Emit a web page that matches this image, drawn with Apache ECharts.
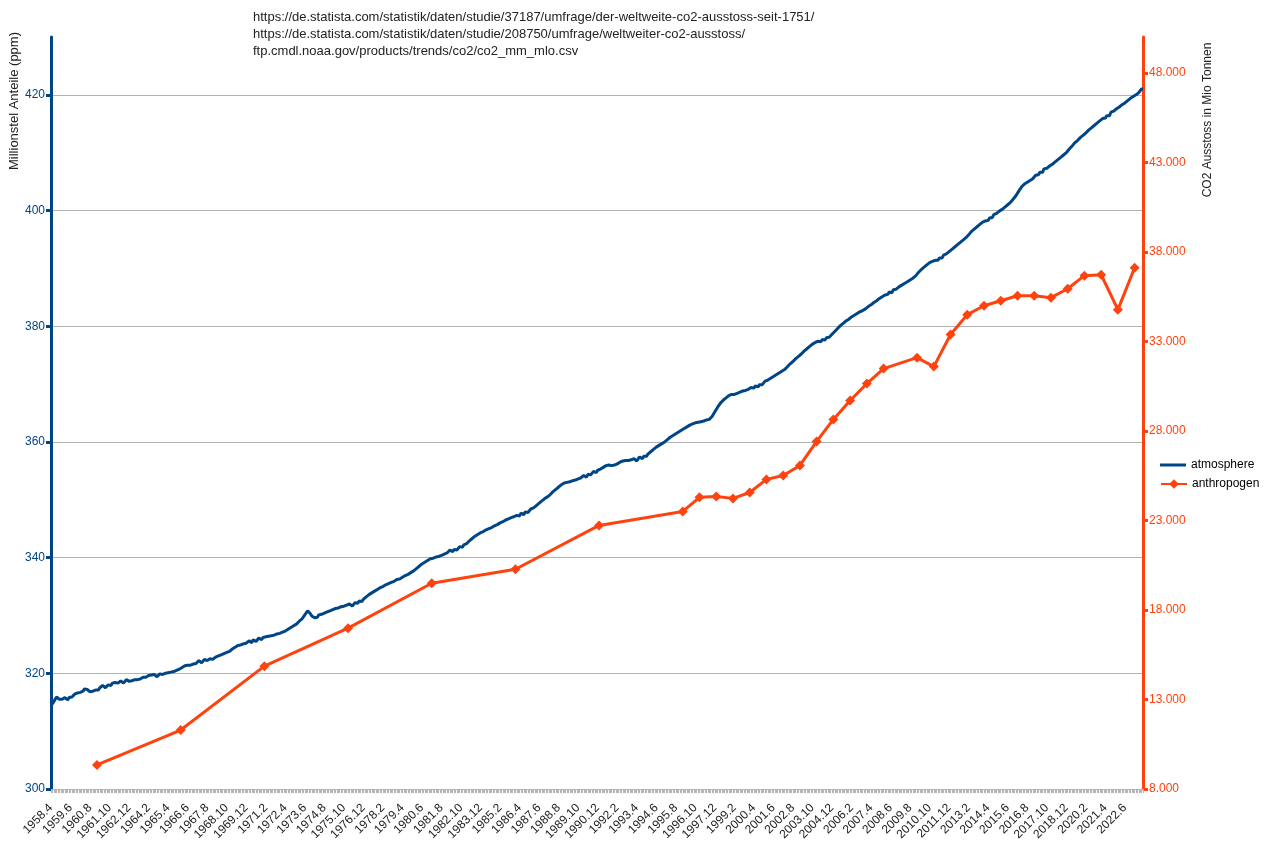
<!DOCTYPE html>
<html>
<head>
<meta charset="utf-8">
<script src="https://cdn.jsdelivr.net/npm/echarts@6/dist/echarts.min.js"></script>
<style>html,body{margin:0;padding:0;background:#fff}#c{width:1264px;height:843px}</style>
</head>
<body>
<div id="c"></div>
<script>
// Monthly categories 1958.4 ... 2023.7
const startYear = 1958, startMonth = 4, endYear = 2023, endMonth = 7;
const months = [];
for (let y = startYear, m = startMonth; y < endYear || (y === endYear && m <= endMonth); ) {
  months.push(y + '.' + m);
  m++; if (m > 12) { m = 1; y++; }
}

// CO2 in atmosphere (ppm, monthly, deseasonalized)
const co2 = [
315.2,314.7,315.1,315.3,315.9,316.0,315.5,315.2,315.5,
315.6,315.8,315.6,315.4,315.8,316.1,315.9,316.2,316.4,316.3,316.6,316.5,
316.7,316.5,316.9,317.3,317.6,317.2,316.9,316.8,317.0,316.9,317.2,317.1,
317.3,317.1,317.5,317.6,317.9,317.6,317.5,317.8,318.0,317.8,317.9,318.3,
318.2,318.4,318.1,318.3,318.6,318.7,318.4,318.3,318.6,318.9,318.7,318.6,
318.8,318.7,319.0,318.9,319.1,318.9,319.2,319.0,319.2,319.3,319.1,319.3,
319.4,319.6,319.3,319.7,319.5,319.8,319.6,319.4,319.7,319.9,319.6,319.8,
319.7,320.0,319.8,320.1,319.9,320.2,320.1,320.3,320.2,320.5,320.4,320.7,
320.8,321.0,320.9,321.3,321.1,321.4,321.6,321.4,321.7,321.6,321.9,321.7,
321.9,322.2,322.0,321.8,322.1,322.4,322.5,322.2,322.1,322.5,322.7,322.4,
322.5,322.8,322.7,323.0,322.9,323.2,323.1,323.4,323.3,323.6,323.5,323.8,
323.9,324.2,324.1,324.5,324.4,324.8,324.6,324.9,324.7,325.1,324.9,325.2,
325.2,325.6,325.4,325.3,325.8,325.9,325.5,325.7,326.1,326.0,325.8,326.2,
326.0,326.3,326.1,326.4,326.2,326.5,326.3,326.6,326.4,326.8,326.6,326.9,
326.8,327.1,326.9,327.3,327.2,327.6,327.5,327.9,327.8,328.2,328.1,328.5,
328.6,329.0,328.9,329.4,329.6,330.1,330.4,330.8,330.6,330.3,329.9,329.7,
329.6,329.9,329.7,330.1,329.9,330.2,330.0,330.4,330.3,330.6,330.5,330.8,
330.7,331.0,330.8,331.2,331.0,331.3,331.1,331.5,331.3,331.6,331.5,331.8,
331.6,332.0,331.8,331.6,331.9,332.2,332.0,332.1,332.5,332.3,332.4,332.8,
332.8,333.2,333.1,333.6,333.5,333.9,333.8,334.2,334.1,334.5,334.4,334.8,
334.7,335.0,334.9,335.3,335.1,335.5,335.4,335.7,335.6,335.9,335.8,336.2,
336.0,336.3,336.2,336.6,336.5,336.9,336.8,337.1,337.0,337.4,337.3,337.7,
337.7,338.1,338.0,338.5,338.4,338.9,338.8,339.2,339.1,339.5,339.4,339.8,
339.6,339.9,339.7,340.1,339.9,340.2,340.1,340.4,340.3,340.6,340.5,340.8,
340.9,341.3,341.1,341.0,341.4,341.7,341.3,341.5,341.9,341.7,341.8,342.2,
342.0,342.4,342.4,342.9,342.8,343.3,343.3,343.7,343.7,344.0,344.0,344.3,
344.2,344.5,344.4,344.8,344.7,345.0,344.9,345.2,345.1,345.5,345.4,345.7,
345.7,346.0,345.9,346.2,346.2,346.5,346.4,346.7,346.6,346.9,346.8,347.1,
346.9,347.3,347.0,347.2,347.7,347.5,347.4,347.9,348.0,347.8,348.1,348.4,
348.2,348.6,348.6,349.0,349.0,349.4,349.4,349.8,349.8,350.2,350.2,350.5,
350.5,350.9,350.9,351.4,351.4,351.8,351.8,352.2,352.2,352.6,352.5,352.9,
352.7,353.0,352.9,353.1,353.0,353.3,353.2,353.4,353.3,353.6,353.5,353.8,
353.8,354.2,354.0,353.9,354.4,354.6,354.3,354.5,354.9,355.0,354.7,355.1,
355.0,355.3,355.3,355.6,355.6,355.9,355.8,356.0,355.8,355.9,355.7,356.0,
355.9,356.2,356.1,356.5,356.4,356.7,356.5,356.8,356.5,356.8,356.6,356.9,
356.7,357.1,356.9,356.7,357.0,357.4,357.2,357.1,357.5,357.7,357.5,357.9,
357.9,358.3,358.3,358.7,358.7,359.1,359.0,359.4,359.4,359.7,359.7,360.0,
360.0,360.4,360.4,360.8,360.8,361.1,361.1,361.4,361.4,361.7,361.6,362.0,
362.0,362.3,362.3,362.6,362.6,362.9,362.8,363.1,363.0,363.3,363.2,363.4,
363.2,363.5,363.3,363.6,363.4,363.8,363.6,363.9,364.0,364.4,364.7,365.2,
365.5,366.0,366.2,366.7,366.8,367.2,367.3,367.6,367.7,368.0,367.9,368.2,
367.9,368.2,368.1,368.4,368.3,368.6,368.5,368.8,368.6,368.9,368.8,369.1,
369.0,369.4,369.1,369.3,369.7,369.6,369.5,369.9,370.1,369.9,370.2,370.5,
370.4,370.7,370.7,371.0,371.0,371.3,371.3,371.6,371.6,371.9,371.8,372.2,
372.1,372.5,372.5,373.0,373.0,373.5,373.5,373.9,374.0,374.4,374.4,374.8,
374.8,375.2,375.2,375.7,375.7,376.1,376.1,376.5,376.5,376.9,376.9,377.2,
377.0,377.4,377.1,377.3,377.7,377.5,377.6,378.0,377.8,378.1,378.4,378.6,
378.7,379.1,379.2,379.6,379.7,380.1,380.1,380.5,380.5,380.9,380.9,381.2,
381.2,381.6,381.5,381.9,381.8,382.2,382.1,382.5,382.4,382.7,382.7,383.0,
383.0,383.4,383.4,383.7,383.7,384.1,384.1,384.4,384.4,384.8,384.8,385.1,
385.0,385.4,385.2,385.5,385.9,385.7,385.8,386.3,386.1,386.4,386.7,386.8,
386.8,387.1,387.1,387.4,387.4,387.7,387.6,388.0,387.9,388.3,388.3,388.7,
388.8,389.3,389.4,389.8,389.8,390.2,390.2,390.6,390.6,391.0,390.9,391.2,
391.0,391.4,391.1,391.4,391.8,391.7,391.8,392.3,392.1,392.5,392.8,392.9,
392.9,393.3,393.3,393.7,393.7,394.1,394.1,394.5,394.5,394.9,394.9,395.3,
395.4,395.8,395.9,396.4,396.4,396.8,396.8,397.2,397.2,397.6,397.6,398.0,
397.8,398.2,398.0,398.3,398.7,398.6,398.8,399.3,399.1,399.5,399.8,399.9,
399.8,400.2,400.2,400.6,400.6,401.0,401.0,401.4,401.5,402.0,402.1,402.6,
402.8,403.4,403.6,404.1,404.2,404.6,404.5,404.9,404.9,405.2,405.2,405.5,
405.6,406.1,405.9,406.2,406.6,406.5,406.6,407.2,407.0,407.3,407.6,407.7,
407.6,408.0,408.0,408.4,408.4,408.8,408.8,409.2,409.2,409.6,409.6,410.0,
410.1,410.6,410.6,411.1,411.2,411.7,411.7,412.1,412.2,412.6,412.6,413.0,
413.0,413.4,413.4,413.9,413.9,414.3,414.3,414.7,414.7,415.1,415.1,415.5,
415.4,415.9,415.7,416.0,416.4,416.3,416.4,417.0,416.8,417.2,417.5,417.6,
417.5,417.9,417.9,418.3,418.3,418.6,418.6,419.0,419.0,419.4,419.3,419.7,
419.6,420.0,420.0,420.4,420.6,421.0,421.0
];

// Anthropogenic CO2 emissions (Mio t), placed at these categories
const emissionCats = ['1961.1','1966.1','1971.1','1976.1','1981.1','1986.1','1991.1',
  '1996.1','1997.1','1998.1','1999.1','2000.1','2001.1','2002.1','2003.1','2004.1','2005.1',
  '2006.1','2007.1','2008.1','2010.1','2011.1','2012.1','2013.1','2014.1','2015.1','2016.1',
  '2017.1','2018.1','2019.1','2020.1','2021.1','2022.1','2023.1'];
const emissionVals = [9340,11290,14860,16980,19490,20270,22720,
  23500,24290,24340,24230,24560,25290,25510,26070,27410,28640,
  29700,30640,31480,32090,31590,33380,34490,34990,35270,35550,
  35550,35440,35940,36670,36720,34770,37110];

const leftTicks = [300,320,340,360,380,400,420];
const rightTicks = [8000,13000,18000,23000,28000,33000,38000,43000,48000];
const sourceLines = [
  'https://de.statista.com/statistik/daten/studie/37187/umfrage/der-weltweite-co2-ausstoss-seit-1751/',
  'https://de.statista.com/statistik/daten/studie/208750/umfrage/weltweiter-co2-ausstoss/',
  'ftp.cmdl.noaa.gov/products/trends/co2/co2_mm_mlo.csv'
];

const BLUE = '#004586', ORANGE = '#ff420e', FONT = 'Liberation Sans';
const fmtDe = v => String(v).replace(/\B(?=(\d{3})+(?!\d))/g, '.');

const chart = echarts.init(document.getElementById('c'));
chart.setOption({
  animation: false,
  backgroundColor: '#fff',
  textStyle: { fontFamily: FONT },
  title: {
    text: sourceLines.join('\n'),
    left: 253, top: 9, padding: 0,
    textStyle: { fontSize: 13, fontWeight: 'normal', color: '#222', lineHeight: 17, fontFamily: FONT }
  },
  graphic: [
    { type: 'text', x: 14, y: 101, rotation: Math.PI / 2,
      style: { text: 'Millionstel Anteile (ppm)', fontSize: 13, fontFamily: FONT, fill: '#222', align: 'center', verticalAlign: 'middle' } },
    { type: 'text', x: 1208, y: 120, rotation: Math.PI / 2,
      style: { text: 'CO2 Ausstoss in Mio Tonnen', fontSize: 12, fontFamily: FONT, fill: '#222', align: 'center', verticalAlign: 'middle' } }
  ],
  legend: [
    {
      left: 1160, top: 459, padding: 0, itemWidth: 26, itemHeight: 3,
      icon: 'rect',
      textStyle: { fontSize: 12, color: '#000', fontFamily: FONT },
      data: ['atmosphere']
    },
    {
      left: 1160, top: 478, padding: 0, itemWidth: 26, itemHeight: 12,
      textStyle: { fontSize: 12, color: '#000', fontFamily: FONT },
      data: ['anthropogen']
    }
  ],
  grid: { left: 51, right: 121, top: 37, bottom: 53 },
  xAxis: {
    type: 'category', data: months, boundaryGap: false,
    axisLine: { lineStyle: { color: '#b3b3b3', width: 1 } },
    axisTick: { interval: 0, length: 4, lineStyle: { color: '#b3b3b3' } },
    axisLabel: { interval: 13, rotate: 45, fontSize: 12, color: '#222', margin: 17, fontFamily: FONT },
    splitLine: { show: false }
  },
  yAxis: [
    {
      type: 'value', position: 'left', min: 300, max: 430, interval: 20,
      axisLine: { show: true, lineStyle: { color: BLUE, width: 3 } },
      axisTick: { show: true, length: 5, customValues: leftTicks, lineStyle: { color: BLUE, width: 3 } },
      axisLabel: { color: BLUE, fontSize: 12, margin: 6, customValues: leftTicks, fontFamily: FONT },
      splitLine: { show: true, lineStyle: { color: '#b3b3b3', width: 1 } }
    },
    {
      type: 'value', position: 'right', min: 8000, max: 50000,
      axisLine: { show: true, lineStyle: { color: ORANGE, width: 3 } },
      axisTick: { show: true, length: 5, customValues: rightTicks, lineStyle: { color: ORANGE, width: 3 } },
      axisLabel: { color: ORANGE, fontSize: 12, margin: 6, customValues: rightTicks, formatter: fmtDe, fontFamily: FONT },
      splitLine: { show: false }
    }
  ],
  series: [
    {
      name: 'atmosphere', type: 'line', yAxisIndex: 0, data: co2,
      symbol: 'none', lineStyle: { color: BLUE, width: 3 }, itemStyle: { color: BLUE }, z: 3
    },
    {
      name: 'anthropogen', type: 'line', yAxisIndex: 1,
      data: emissionCats.map((c, i) => [c, emissionVals[i]]),
      symbol: 'diamond', symbolSize: 10, showSymbol: true, showAllSymbol: true, connectNulls: true,
      lineStyle: { color: ORANGE, width: 3 }, itemStyle: { color: ORANGE }, z: 4
    }
  ]
});
</script>
</body>
</html>
